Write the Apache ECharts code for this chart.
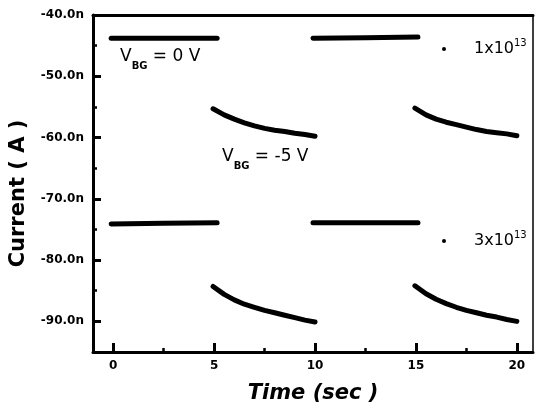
<!DOCTYPE html>
<html>
<head>
<meta charset="utf-8">
<script src="https://cdn.jsdelivr.net/npm/echarts@6/dist/echarts.min.js"></script>
<style>
  html, body { margin: 0; padding: 0; background: #fff; }
  #chart-div { width: 536px; height: 418px; }
</style>
</head>
<body>
<div id="chart-div"></div>
<script>

// time axis (sec) for the flat (V_BG = 0 V) parts and the decaying (V_BG = -5 V) parts
var flatTimesA = [-0.1, 2.5, 5.15];
var flatTimesB = [9.9, 12.5, 15.1];
var decayTimesA = [4.95, 5.5, 6.0, 6.5, 7.0, 7.5, 8.0, 8.5, 9.0, 9.5, 10.0];
var decayTimesB = [14.95, 15.5, 16.0, 16.5, 17.0, 17.5, 18.0, 18.5, 19.0, 19.5, 20.0];

// current (nA), dose 1x10^13
var high1A = [-43.8, -43.8, -43.8];
var high1B = [-43.8, -43.7, -43.6];
var low1A = [-55.3, -56.3, -57.0, -57.6, -58.1, -58.5, -58.8, -59.0, -59.3, -59.5, -59.8];
var low1B = [-55.2, -56.3, -57.0, -57.5, -57.9, -58.3, -58.7, -59.0, -59.2, -59.4, -59.7];

// current (nA), dose 3x10^13
var high3A = [-74.1, -74.0, -73.9];
var high3B = [-73.9, -73.9, -73.9];
var low3A = [-84.3, -85.6, -86.5, -87.2, -87.7, -88.2, -88.6, -89.0, -89.4, -89.8, -90.1];
var low3B = [-84.2, -85.5, -86.4, -87.1, -87.7, -88.2, -88.6, -89.0, -89.3, -89.7, -90.0];

var seriesNames = ['1x10^13', '3x10^13'];

// ticks
var xMajor = [0, 5, 10, 15, 20];
var xMinor = [2.5, 7.5, 12.5, 17.5];
var yMajor = [-90, -80, -70, -60, -50, -40];
var yMinor = [-85, -75, -65, -55, -45];


var FONT = 'DejaVu Sans';

// pair up times and values for a line segment
var zipPairs = function(times, values) {
    var out = new Array(times.length);
    for (var i = 0; i < times.length; i++) {
        out[i] = [times[i], values[i]];
    }
    return out;
}

var makeSegment = function(name, times, values) {
    return {
        name: name,
        type: 'line',
        xAxisIndex: 0,
        yAxisIndex: 0,
        data: zipPairs(times, values),
        showSymbol: false,
        symbol: 'circle',
        symbolSize: 4,
        smooth: false,
        silent: true,
        itemStyle: { color: '#000' },
        lineStyle: { color: '#000', width: 5, cap: 'round', join: 'round' }
    };
}

var legendFormatter = function(name) {
    var parts = name.split('^');
    return '{b|' + parts[0] + '}{s|' + parts[1] + '}';
}

var legendRich = {
    b: { fontFamily: FONT, fontSize: 16, color: '#000', lineHeight: 22, verticalAlign: 'middle' },
    s: { fontFamily: FONT, fontSize: 10, color: '#000', lineHeight: 22, verticalAlign: 'top' }
};

var makeLegend = function(name, top) {
    return {
        data: [name],
        left: 437,
        top: top,
        orient: 'vertical',
        icon: 'circle',
        itemWidth: 4,
        itemHeight: 4,
        selectedMode: false,
        formatter: legendFormatter,
        textStyle: { padding: [0, 0, 0, 23], rich: legendRich }
    };
}

var vbgRich = {
    v: { fontFamily: FONT, fontSize: 17, color: '#000', lineHeight: 17, verticalAlign: 'top' },
    sub: { fontFamily: FONT, fontSize: 10, fontWeight: 'bold', color: '#000', lineHeight: 23, verticalAlign: 'bottom' }
};

var makeLabel = function(text, left, top) {
    return {
        type: 'text',
        left: left,
        top: top,
        silent: true,
        style: {
            text: '{v|V}{sub|BG}{v|' + text + '}',
            rich: vbgRich
        }
    };
}

var minorX = {
    type: 'value', gridIndex: 0, position: 'bottom', min: -1, max: 20.8,
    axisLine: { show: false, onZero: false }, axisLabel: { show: false }, splitLine: { show: false },
    axisTick: { show: true, inside: true, length: 4, customValues: xMinor,
                lineStyle: { color: '#000', width: 2.5 } }
};

var opts = {
    animation: false,
    backgroundColor: '#fff',
    grid: { left: 93, right: 3, top: 15, bottom: 66, show: true,
            borderColor: '#000', borderWidth: 1.5, backgroundColor: 'transparent' },
    legend: [makeLegend(seriesNames[0], 33), makeLegend(seriesNames[1], 225)],
    xAxis: [{
        type: 'value', gridIndex: 0, position: 'bottom', min: -1, max: 20.8,
        name: 'Time (sec )', nameLocation: 'middle', nameGap: 31,
        nameTextStyle: { fontFamily: FONT, fontSize: 21, fontWeight: 'bold', fontStyle: 'italic', color: '#000' },
        axisLine: { show: true, onZero: false, lineStyle: { color: '#000', width: 3 } },
        axisTick: { show: true, inside: true, length: 9, customValues: xMajor,
                    lineStyle: { color: '#000', width: 3 } },
        axisLabel: { customValues: xMajor, margin: 8, fontFamily: FONT, fontSize: 12,
                     fontWeight: 'bold', color: '#000' },
        splitLine: { show: false }
    }, minorX, {
        type: 'value', gridIndex: 0, position: 'top', min: -1, max: 20.8,
        axisLine: { show: true, onZero: false, lineStyle: { color: '#000', width: 3 } },
        axisTick: { show: false }, axisLabel: { show: false }, splitLine: { show: false }
    }],
    yAxis: [{
        type: 'value', gridIndex: 0, position: 'left', min: -95, max: -40,
        name: 'Current ( A )', nameLocation: 'middle', nameGap: 64,
        nameTextStyle: { fontFamily: FONT, fontSize: 21, fontWeight: 'bold', color: '#000',
                         padding: [0, 20, 0, 0] },
        axisLine: { show: true, onZero: false, lineStyle: { color: '#000', width: 3 } },
        axisTick: { show: true, inside: true, length: 8, customValues: yMajor,
                    lineStyle: { color: '#000', width: 3 } },
        axisLabel: { customValues: yMajor, margin: 9, fontFamily: FONT, fontSize: 12,
                     fontWeight: 'bold', color: '#000',
                     formatter: function(v) { return v.toFixed(1) + 'n'; } },
        splitLine: { show: false }
    }, {
        type: 'value', gridIndex: 0, position: 'left', min: -95, max: -40,
        axisLine: { show: false, onZero: false }, axisLabel: { show: false }, splitLine: { show: false },
        axisTick: { show: true, inside: true, length: 4, customValues: yMinor,
                    lineStyle: { color: '#000', width: 2.5 } }
    }],
    graphic: [
        makeLabel(' = 0 V', 120, 48),
        makeLabel(' = -5 V', 222, 148)
    ],
    series: [
        makeSegment(seriesNames[0], flatTimesA, high1A),
        makeSegment(seriesNames[0], decayTimesA, low1A),
        makeSegment(seriesNames[0], flatTimesB, high1B),
        makeSegment(seriesNames[0], decayTimesB, low1B),
        makeSegment(seriesNames[1], flatTimesA, high3A),
        makeSegment(seriesNames[1], decayTimesA, low3A),
        makeSegment(seriesNames[1], flatTimesB, high3B),
        makeSegment(seriesNames[1], decayTimesB, low3B)
    ]
};

var myChartObj = echarts.init(document.getElementById('chart-div'), null, { renderer: 'canvas' });
myChartObj.setOption(opts);

</script>
</body>
</html>
